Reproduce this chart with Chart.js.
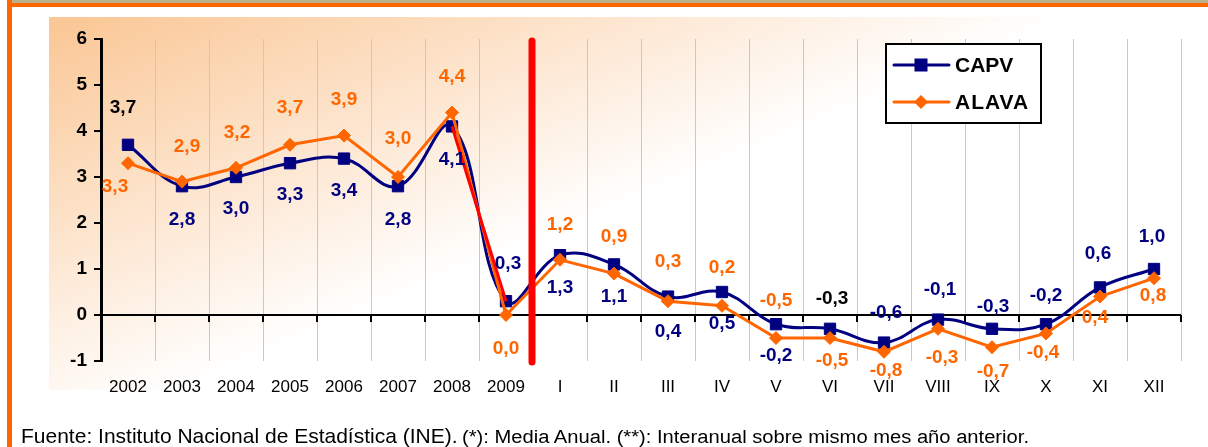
<!DOCTYPE html>
<html>
<head>
<meta charset="utf-8">
<script src="https://cdn.jsdelivr.net/npm/chart.js@4.4.1/dist/chart.umd.min.js"></script>
<style>
    body { margin: 0; background: #ffffff; }
    #wrap { position: relative; width: 1208px; height: 447px; overflow: hidden; background: #ffffff; }
    #wrap canvas { position: absolute; left: 0; top: 0; }
    .band-top { position: absolute; left: 12px; top: 0; width: 1196px; height: 3px; background: #b8b18a; }
    .line-top { position: absolute; left: 7px; top: 3px; width: 1201px; height: 4px; background: #ff6600; }
    .line-left { position: absolute; left: 7px; top: 0; width: 5px; height: 447px; background: #ff6600; }
    #footer {
        position: absolute; left: 21px; top: 424px;
        font-family: "Liberation Sans", Arial, sans-serif;
        line-height: 24px; white-space: nowrap; color: #000;
    }
    #footer .src { font-size: 21px; }
    #footer .notes { font-size: 18px; display: inline-block; transform: scaleX(1.12); transform-origin: left bottom; }
</style>
</head>
<body>
<div id="wrap">
    <canvas id="ipcChart" width="1208" height="447"></canvas>
    <div class="band-top"></div>
    <div class="line-top"></div>
    <div class="line-left"></div>
    <div id="footer"><span class="src">Fuente: Instituto Nacional de Estadística (INE).</span> <span class="notes">(*): Media Anual. (**): Interanual sobre mismo mes año anterior.</span></div>
</div>

<script>
// Data
const categories = ['2002', '2003', '2004', '2005', '2006', '2007', '2008', '2009',
    'I', 'II', 'III', 'IV', 'V', 'VI', 'VII', 'VIII', 'IX', 'X', 'XI', 'XII'];
const capvValues = [3.7, 2.8, 3.0, 3.3, 3.4, 2.8, 4.1, 0.3,
    1.3, 1.1, 0.4, 0.5, -0.2, -0.3, -0.6, -0.1, -0.3, -0.2, 0.6, 1.0];
const alavaValues = [3.3, 2.9, 3.2, 3.7, 3.9, 3.0, 4.4, 0.0,
    1.2, 0.9, 0.3, 0.2, -0.5, -0.5, -0.8, -0.3, -0.7, -0.4, 0.4, 0.8];
const yTickValues = [-1, 0, 1, 2, 3, 4, 5, 6];
const legendOrder = ['CAPV', 'ALAVA'];

const NAVY = '#000080';
const ORANGE = '#ff6600';
const FONT = '"Liberation Sans", Arial, sans-serif';

// red straight segment 2008 -> 2009 over the CAPV curve
const redFrom = categories.indexOf('2008');
const redTo = categories.indexOf('2009');
const redSegment = capvValues.map((v, i) => (i === redFrom || i === redTo) ? v : null);

// value label placement (pixel offsets from each point)
const labelLayout = {
    CAPV: {
        dx: [-5, 0, 0, 0, 0, 0, 0, 2, 0, 0, 0, 0, 0, 2, 2, 2, 1, 0, -2, -2],
        dy: [-37, 34, 32, 32, 32, 34, 33, -37, 33, 32, 35, 32, 32, -30, -30, -30, -22, -28, -34, -32],
        color: i => (i === 0 || i === 13) ? '#000000' : NAVY
    },
    ALAVA: {
        dx: [-13, 5, 1, 0, 0, 0, 0, 0, 0, 0, 0, 0, 0, 2, 2, 4, 1, -3, -5, -1],
        dy: [24, -35, -35, -37, -36, -38, -36, 34, -35, -37, -39, -38, -37, 23, 19, 29, 25, 19, 21, 18],
        color: () => ORANGE
    }
};

function fmt(v) {
    return v.toFixed(1).replace('.', ',');
}

const panelBackground = {
    id: 'panelBackground',
    beforeDraw(chart) {
        const ctx = chart.ctx;
        const g = ctx.createLinearGradient(49, 17, 200, 380);
        g.addColorStop(0, '#fac694');
        g.addColorStop(1, '#ffffff');
        ctx.save();
        ctx.fillStyle = g;
        ctx.fillRect(49, 17, 1084, 373);
        ctx.restore();
    }
};

const zeroAxis = {
    id: 'zeroAxis',
    beforeDatasetsDraw(chart) {
        const { ctx, chartArea, scales } = chart;
        const y0 = Math.round(scales.y.getPixelForValue(0));
        const step = (chartArea.right - chartArea.left) / categories.length;
        ctx.save();
        ctx.strokeStyle = '#000';
        ctx.lineWidth = 2;
        ctx.beginPath();
        ctx.moveTo(chartArea.left, y0);
        ctx.lineTo(chartArea.right, y0);
        for (let i = 1; i <= categories.length; i++) {
            const xx = Math.round(chartArea.left + i * step);
            ctx.moveTo(xx, y0);
            ctx.lineTo(xx, y0 + 7);
        }
        ctx.stroke();
        ctx.restore();
    }
};

const dividerAndLabels = {
    id: 'dividerAndLabels',
    afterDatasetsDraw(chart) {
        const { ctx, chartArea, scales } = chart;

        // red divider between annual and monthly data
        const xa = scales.x.getPixelForValue(redTo);
        const xb = scales.x.getPixelForValue(redTo + 1);
        const xd = (xa + xb) / 2 - 1;
        ctx.save();
        ctx.strokeStyle = '#ff0000';
        ctx.lineWidth = 7;
        ctx.lineCap = 'round';
        ctx.beginPath();
        ctx.moveTo(xd, chartArea.top + 2);
        ctx.lineTo(xd, chartArea.bottom + 1);
        ctx.stroke();
        ctx.restore();

        // value labels
        ctx.save();
        ctx.font = 'bold 19px ' + FONT;
        ctx.textAlign = 'center';
        ctx.textBaseline = 'middle';
        chart.data.datasets.forEach((ds, di) => {
            const layout = labelLayout[ds.label];
            if (!layout) return;
            const meta = chart.getDatasetMeta(di);
            meta.data.forEach((pt, i) => {
                ctx.fillStyle = layout.color(i);
                ctx.fillText(fmt(ds.data[i]), pt.x + layout.dx[i], pt.y + layout.dy[i]);
            });
        });
        ctx.restore();
    }
};

const boxLegend = {
    id: 'boxLegend',
    afterDraw(chart) {
        const ctx = chart.ctx;
        const bx = 886, by = 44, bw = 155, bh = 79;
        ctx.save();
        ctx.fillStyle = '#ffffff';
        ctx.fillRect(bx, by, bw, bh);
        ctx.strokeStyle = '#000';
        ctx.lineWidth = 2;
        ctx.strokeRect(bx, by, bw, bh);

        legendOrder.forEach((name, r) => {
            const ds = chart.data.datasets.find(d => d.label === name);
            const ly = by + 21 + r * 37;
            ctx.strokeStyle = ds.borderColor;
            ctx.lineWidth = 3;
            ctx.lineCap = 'round';
            ctx.beginPath();
            ctx.moveTo(bx + 8, ly);
            ctx.lineTo(bx + 63, ly);
            ctx.stroke();
            const cx = bx + 35;
            ctx.fillStyle = ds.borderColor;
            if (ds.pointStyle === 'rect') {
                ctx.fillRect(cx - 6.5, ly - 6.5, 13, 13);
            } else {
                ctx.beginPath();
                ctx.moveTo(cx, ly - 7);
                ctx.lineTo(cx + 7, ly);
                ctx.lineTo(cx, ly + 7);
                ctx.lineTo(cx - 7, ly);
                ctx.closePath();
                ctx.fill();
            }
            ctx.fillStyle = '#000';
            ctx.font = 'bold 21px ' + FONT;
            ctx.textAlign = 'left';
            ctx.textBaseline = 'middle';
            ctx.letterSpacing = name === 'ALAVA' ? '1px' : '0px';
            ctx.fillText(name, bx + 69, ly + 1);
        });
        ctx.restore();
    }
};

const ctx = document.getElementById('ipcChart').getContext('2d');
new Chart(ctx, {
    type: 'line',
    data: {
        labels: categories,
        datasets: [
            {
                label: 'red',
                data: redSegment,
                borderColor: '#ff0000',
                borderWidth: 3,
                pointRadius: 0,
                tension: 0,
                spanGaps: false
            },
            {
                label: 'ALAVA',
                data: alavaValues,
                borderColor: ORANGE,
                backgroundColor: ORANGE,
                borderWidth: 3,
                pointStyle: 'rectRot',
                pointRadius: 6.5,
                pointBorderWidth: 1,
                tension: 0
            },
            {
                label: 'CAPV',
                data: capvValues,
                borderColor: NAVY,
                backgroundColor: NAVY,
                borderWidth: 3,
                pointStyle: 'rect',
                pointRadius: 8,
                pointBorderWidth: 1,
                tension: 0.4
            }
        ]
    },
    options: {
        responsive: false,
        devicePixelRatio: 1,
        animation: false,
        layout: { padding: { left: 0, right: 27, top: 39, bottom: 0 } },
        plugins: {
            legend: { display: false },
            tooltip: { enabled: false }
        },
        scales: {
            x: {
                offset: true,
                grid: {
                    offset: true,
                    drawTicks: false,
                    color: c => c.index === 0 ? 'rgba(0,0,0,0)' : '#c8c8c8',
                    lineWidth: 1
                },
                border: { display: false },
                ticks: {
                    color: '#000',
                    font: { family: FONT, size: 17 },
                    padding: 16,
                    maxRotation: 0,
                    autoSkip: false
                },
                afterFit: s => { s.height = 86; }
            },
            y: {
                min: yTickValues[0],
                max: yTickValues[yTickValues.length - 1],
                grid: {
                    drawOnChartArea: false,
                    drawTicks: true,
                    tickLength: 7,
                    color: '#000',
                    lineWidth: 2
                },
                border: { display: true, color: '#000', width: 3 },
                ticks: {
                    stepSize: 1,
                    color: '#000',
                    font: { family: FONT, size: 19, weight: 'bold' },
                    padding: 7
                },
                afterFit: s => { s.width = 101; }
            }
        }
    },
    plugins: [panelBackground, zeroAxis, dividerAndLabels, boxLegend]
});
</script>
</body>
</html>
